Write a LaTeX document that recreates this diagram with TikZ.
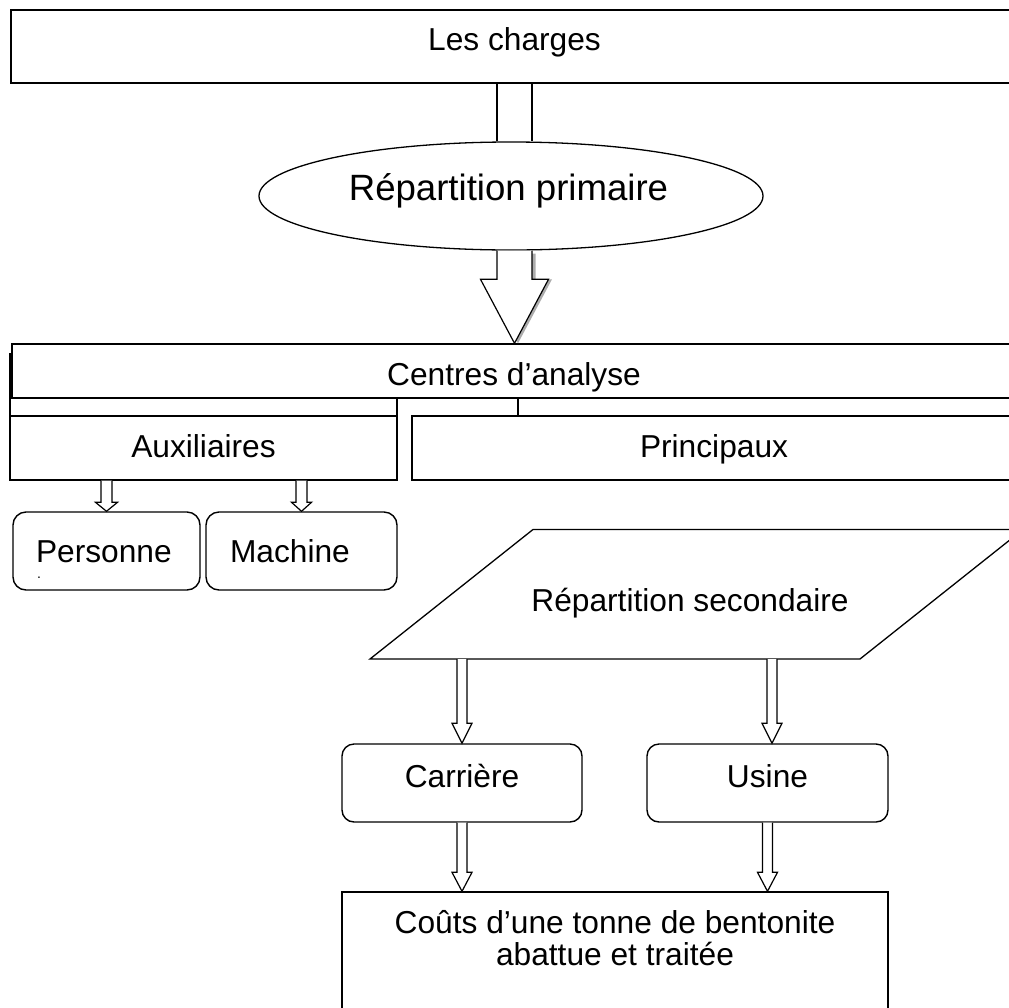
\documentclass[tikz,border=0pt]{standalone}
\usepackage{fontspec}
\setmainfont{Liberation Sans}
\usetikzlibrary{shapes.geometric,calc}

% hollow block arrow pointing down: [style]{start}{tip}{shaft half width}{head half width}{head length}
\newcommand\hollowdown[6][]{%
  \draw[blockarrow,#1] let \p1=(#2), \p2=(#3) in
    (\x1-#4,\y1) -- (\x1-#4,\y2+#6) -- (\x1-#5,\y2+#6) -- (\x1,\y2)
    -- (\x1+#5,\y2+#6) -- (\x1+#4,\y2+#6) -- (\x1+#4,\y1);}

\begin{document}
\begin{tikzpicture}[x=1pt,y=-1pt,
  box/.style={draw,line width=1.4pt,fill=white,inner sep=0pt,rectangle},
  rbox/.style={box,rounded corners=13pt},
  txt/.style={font=\fontsize{31.7pt}{36pt}\selectfont},
  bigtxt/.style={font=\fontsize{36.6pt}{42pt}\selectfont},
  twoline/.style={font=\fontsize{31.7pt}{32pt}\selectfont},
  bl/.style={text height=#1,text depth=0pt},
  blockarrow/.style={draw,line width=1.2pt,fill=white,line join=miter},
  arrowshadow/.style={draw=none,fill=gray!65},
  link/.style={line width=1.3pt},
]
\useasboundingbox (0,0) rectangle (1009,1007);
\clip (0,0) rectangle (1009,1007);

% top block and primary distribution
\node[box,minimum width=1007pt,minimum height=73pt,txt,bl=7pt] (charges) at (514.5,46.5) {Les charges};
\node[ellipse,draw,line width=1.3pt,fill=white,inner sep=0pt,
      minimum width=504pt,minimum height=108pt] (ell) at (511,196) {};
\node[bigtxt,anchor=base,inner sep=0pt] (elltext) at (508.5,200) {Répartition primaire};

% analysis centres
\node[box,minimum width=387pt,minimum height=126pt] (auxframe) at (203.5,417) {};
\node[box,minimum width=1004pt,minimum height=54pt,txt,bl=28pt] (centres) at (514,371) {Centres d’analyse};
\node[box,minimum width=387pt,minimum height=64pt,txt,bl=18pt] (aux) at (203.5,448) {Auxiliaires};
\node[box,minimum width=604pt,minimum height=64pt,txt,bl=18pt] (princ) at (714,448) {Principaux};
\coordinate (plink) at (518,0);
\draw[link] (centres.south -| plink) -- (princ.north -| plink);

% auxiliary centres
\node[rbox,minimum width=187pt,minimum height=78pt,inner xsep=23pt,text width=141pt,
      align=left,txt,bl=22pt] (pers) at (106.5,551) {Personne};
\node[font=\fontsize{14pt}{14pt}\selectfont,inner sep=0pt,anchor=base west] (persdot) at (37,578) {.};
\node[rbox,minimum width=191pt,minimum height=78pt,inner xsep=24pt,text width=143pt,
      align=left,txt,bl=22pt] (mach) at (301.5,551) {Machine};

% secondary distribution
\coordinate (pa) at (533,529.5);
\coordinate (pb) at (1023,529.5);
\coordinate (pc) at (860,659);
\coordinate (pd) at (370,659);
\draw[line width=1.3pt,fill=white] (pa) -- (pb) -- (pc) -- (pd) -- cycle;
\node[txt,anchor=base,inner sep=0pt] (pars) at (690,611) {Répartition secondaire};

\node[rbox,rounded corners=12pt,minimum width=240pt,minimum height=78pt,txt,bl=8pt] (carr) at (462,783) {Carrière};
\node[rbox,rounded corners=12pt,minimum width=241pt,minimum height=78pt,txt,bl=8pt] (usine) at (767.5,783) {Usine};

% final cost
\node[box,minimum width=546pt,minimum height=140pt] (cost) at (615,962) {};
\node[twoline,align=center,anchor=base,inner sep=0pt] (costtext) at (615,965)
  {Coûts d’une tonne de bentonite\\abattue et traitée};

% connectors
\draw[link] let \p1=(charges.south), \p2=(ell.north) in
  (\x1-17.5pt,\y1) -- (\x1-17.5pt,\y2) (\x1+17.5pt,\y1) -- (\x1+17.5pt,\y2);
\hollowdown[arrowshadow]{$(charges.south |- ell.south)+(3.5,3)$}{$(charges.south |- centres.north)+(3.5,0)$}{17.5pt}{34pt}{64pt}
\hollowdown{charges.south |- ell.south}{charges.south |- centres.north}{17.5pt}{34pt}{64pt}

\hollowdown{aux.south -| pers.north}{pers.north}{5.5pt}{11pt}{9pt}
\hollowdown{aux.south -| mach.north}{mach.north}{5.5pt}{10pt}{9pt}

\coordinate (uarrow) at (772,0);
\hollowdown{pd -| carr.north}{carr.north}{5pt}{10pt}{20pt}
\hollowdown{pd -| uarrow}{usine.north -| uarrow}{5pt}{10pt}{20pt}

\hollowdown{carr.south}{carr.south |- cost.north}{5pt}{10pt}{19pt}
\hollowdown{usine.south}{usine.south |- cost.north}{5pt}{10pt}{19pt}
\end{tikzpicture}
\end{document}
